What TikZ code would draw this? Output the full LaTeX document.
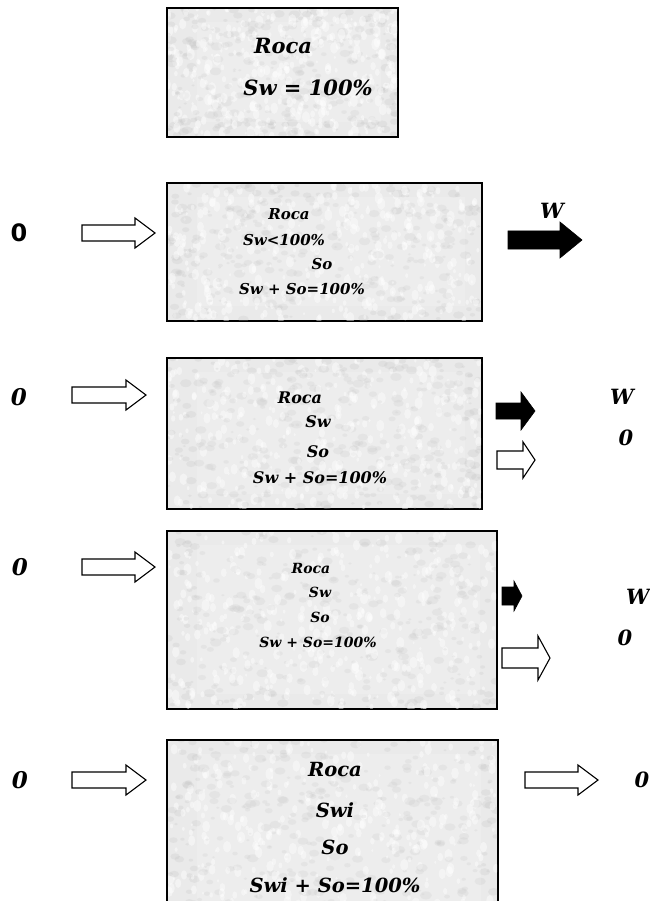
\documentclass[tikz,border=0pt]{standalone}
\usepackage{fontspec}
\setmainfont{DejaVu Serif}
\newfontfamily\zerofont{DejaVu Sans}
\tikzset{
  rockbox/.style={draw=black, line width=1.2pt, fill={rgb,255:red,234;green,234;blue,234}},
  lbl/.style={font=\bfseries\itshape, inner sep=0pt, anchor=center},
  hollow/.style={draw=black, line width=1.1pt, fill=white, line join=miter},
  solid/.style={draw=black, fill=black, line width=0.6pt, line join=miter}
}
\newcommand\barrow[7]{\path[#1] (#2,{#4-#6}) -- ({#3-#7},{#4-#6}) -- ({#3-#7},{#4-#5}) -- (#3,#4) -- ({#3-#7},{#4+#5}) -- ({#3-#7},{#4+#6}) -- (#2,{#4+#6}) -- cycle;}
\newcommand\rockfill[4]{%
  \begin{scope}
    \clip (#1,#2) rectangle (#3,#4);
    \pgfmathsetseed{#1#2}
    \foreach \i in {1,...,700}{
      \pgfmathsetmacro\rx{#1+rnd*(#3-#1)}
      \pgfmathsetmacro\ry{#2+rnd*(#4-#2)}
      \pgfmathsetmacro\rr{1+rnd*3}
      \pgfmathsetmacro\rrl{\rr*1.5}
      \pgfmathsetmacro\rg{rnd}
      \ifdim\rg pt<0.5pt
        \fill[black!25, opacity=0.22] (\rx,\ry) ellipse [x radius=\rrl, y radius=\rr];
      \else
        \fill[white, opacity=0.45] (\rx,\ry) ellipse [x radius=\rr, y radius=\rrl];
      \fi
    }
    \fill[white, opacity=0.15] ({#1+30},{#2+14}) rectangle ({#3-16},{#4-14});
  \end{scope}
}
\begin{document}
\begin{tikzpicture}[x=1pt,y=-1pt]
\useasboundingbox (0,0) rectangle (649,901);
\fill[white] (0,0) rectangle (649,901);

% Box 1
\node[rockbox, minimum width=230pt, minimum height=128pt, anchor=north west, inner sep=0pt] (b1) at (167,8) {};
\rockfill{167}{8}{397}{136}
\draw[line width=1.2pt] (b1.north west) rectangle (b1.south east);
\node[lbl, font=\fontsize{21}{24}\selectfont\bfseries\itshape] (b1t1) at (283,46) {Roca};
\node[lbl, font=\fontsize{21}{24}\selectfont\bfseries\itshape] (b1t2) at (308,88) {Sw = 100\%};

% Row 2
\node[rockbox, minimum width=314pt, minimum height=137pt, anchor=north west, inner sep=0pt] (b2) at (167,183) {};
\rockfill{167}{183}{481}{320}
\draw[line width=1.2pt] (b2.north west) rectangle (b2.south east);
\node[lbl, font=\fontsize{15}{18}\selectfont\bfseries\itshape] (b2t1) at (289,214) {Roca};
\node[lbl, font=\fontsize{15}{18}\selectfont\bfseries\itshape] (b2t2) at (284,240) {Sw<100\%};
\node[lbl, font=\fontsize{15}{18}\selectfont\bfseries\itshape] (b2t3) at (322,264) {So};
\node[lbl, font=\fontsize{15}{18}\selectfont\bfseries\itshape] (b2t4) at (302,289) {Sw + So=100\%};
\node[lbl, font=\fontsize{24}{28}\selectfont\zerofont\bfseries] (in2) at (19,233) {0};
\barrow{hollow}{82}{155}{233}{15}{8}{20}
\barrow{solid}{508}{582}{240}{18}{9}{22}
\node[lbl, font=\fontsize{21}{24}\selectfont\bfseries\itshape] (w2) at (552,211) {W};

% Row 3
\node[rockbox, minimum width=314pt, minimum height=150pt, anchor=north west, inner sep=0pt] (b3) at (167,358) {};
\rockfill{167}{358}{481}{508}
\draw[line width=1.2pt] (b3.north west) rectangle (b3.south east);
\node[lbl, font=\fontsize{16}{19}\selectfont\bfseries\itshape] (b3t1) at (300,398) {Roca};
\node[lbl, font=\fontsize{16}{19}\selectfont\bfseries\itshape] (b3t2) at (318,422) {Sw};
\node[lbl, font=\fontsize{16}{19}\selectfont\bfseries\itshape] (b3t3) at (318,452) {So};
\node[lbl, font=\fontsize{16}{19}\selectfont\bfseries\itshape] (b3t4) at (320,478) {Sw + So=100\%};
\node[lbl, font=\fontsize{23}{26}\selectfont\bfseries\itshape] (in3) at (19,397) {0};
\barrow{hollow}{72}{146}{395}{15}{8}{20}
\barrow{solid}{496}{535}{411}{19}{8}{14}
\barrow{hollow}{497}{535}{460}{18}{9}{12}
\node[lbl, font=\fontsize{21}{24}\selectfont\bfseries\itshape] (w3) at (622,397) {W};
\node[lbl, font=\fontsize{21}{24}\selectfont\bfseries\itshape] (o3) at (626,438) {0};

% Row 4
\node[rockbox, minimum width=329pt, minimum height=177pt, anchor=north west, inner sep=0pt] (b4) at (167,531) {};
\rockfill{167}{531}{496}{708}
\draw[line width=1.2pt] (b4.north west) rectangle (b4.south east);
\node[lbl, font=\fontsize{14}{17}\selectfont\bfseries\itshape] (b4t1) at (311,568) {Roca};
\node[lbl, font=\fontsize{14}{17}\selectfont\bfseries\itshape] (b4t2) at (320,592) {Sw};
\node[lbl, font=\fontsize{14}{17}\selectfont\bfseries\itshape] (b4t3) at (320,617) {So};
\node[lbl, font=\fontsize{14}{17}\selectfont\bfseries\itshape] (b4t4) at (318,642) {Sw + So=100\%};
\node[lbl, font=\fontsize{23}{26}\selectfont\bfseries\itshape] (in4) at (20,567) {0};
\barrow{hollow}{82}{155}{567}{15}{8}{20}
\barrow{solid}{502}{522}{596}{15}{9}{8}
\barrow{hollow}{502}{550}{658}{22}{10}{12}
\node[lbl, font=\fontsize{21}{24}\selectfont\bfseries\itshape] (w4) at (638,597) {W};
\node[lbl, font=\fontsize{21}{24}\selectfont\bfseries\itshape] (o4) at (625,638) {0};

% Row 5
\node[rockbox, minimum width=330pt, minimum height=175pt, anchor=north west, inner sep=0pt] (b5) at (167,740) {};
\rockfill{167}{740}{497}{915}
\draw[line width=1.2pt] (b5.north west) rectangle (b5.south east);
\node[lbl, font=\fontsize{19.5}{23}\selectfont\bfseries\itshape] (b5t1) at (335,770) {Roca};
\node[lbl, font=\fontsize{19.5}{23}\selectfont\bfseries\itshape] (b5t2) at (335,810) {Swi};
\node[lbl, font=\fontsize{19.5}{23}\selectfont\bfseries\itshape] (b5t3) at (335,847) {So};
\node[lbl, font=\fontsize{19.5}{23}\selectfont\bfseries\itshape] (b5t4) at (335,885) {Swi + So=100\%};
\node[lbl, font=\fontsize{23}{26}\selectfont\bfseries\itshape] (in5) at (20,780) {0};
\barrow{hollow}{72}{146}{780}{15}{8}{20}
\barrow{hollow}{525}{598}{780}{15}{8}{20}
\node[lbl, font=\fontsize{21}{24}\selectfont\bfseries\itshape] (o5) at (642,780) {0};
\end{tikzpicture}
\end{document}
